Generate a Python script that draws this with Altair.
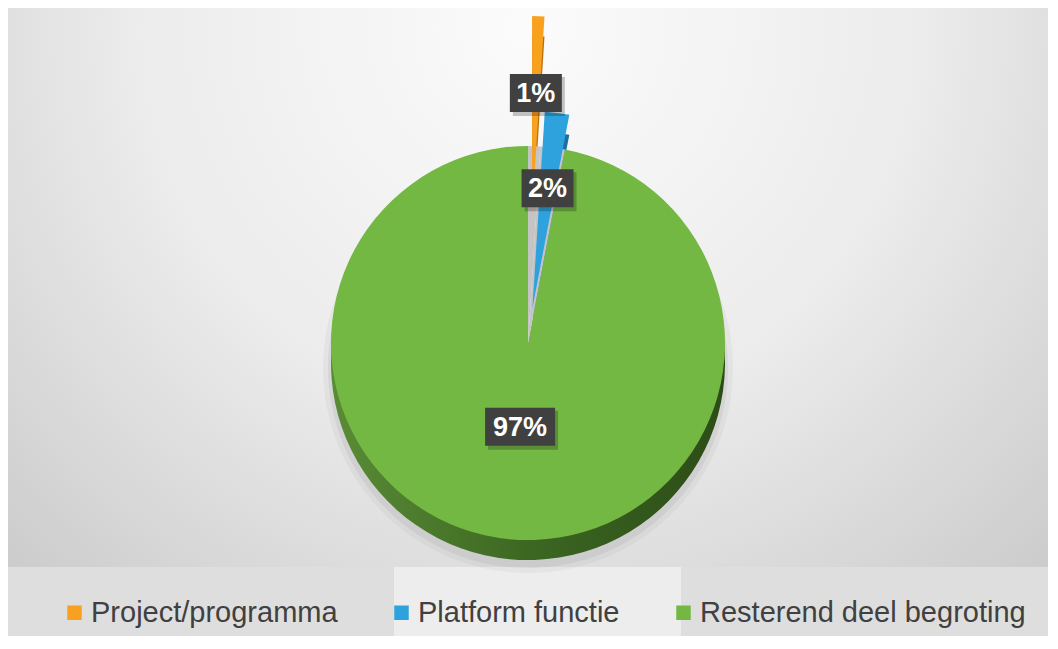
import altair as alt
import pandas as pd

# ---- data ----
categories = ["Project/programma", "Platform functie", "Resterend deel begroting"]
values = [1, 2, 97]
labels = ["1%", "2%", "97%"]

# ---- style ----
colors = ["#F7A11E", "#2EA2DD", "#73B843"]
side_colors = ["#B8700F", "#1D6FA3", "#3E6B24"]
explode_px = [130, 35, 0]
label_radius_px = [120, 121, 84]

W, H = 1040, 628
CX, CY, R, DEPTH = 520, 335, 197, 20
BAND_Y = 559

total = sum(values)
starts, ends = [], []
acc = 0
for v in values:
    starts.append(acc)
    acc += v
    ends.append(acc)

df = pd.DataFrame({
    "category": categories,
    "value": values,
    "label": labels,
    "start": starts,
    "end": ends,
    "mid": [(s + e) / 2 for s, e in zip(starts, ends)],
    "explode": explode_px,
    "label_r": label_radius_px,
    "side_color": side_colors,
})

base = alt.Chart(df).transform_calculate(
    ang=f"2*PI*datum.mid/{total}",
).transform_calculate(
    cx=f"{CX} + datum.explode*sin(datum.ang)",
    cy=f"{CY} - datum.explode*cos(datum.ang)",
).transform_calculate(
    sy=f"datum.cy + {DEPTH}",
    hy=f"datum.cy + {DEPTH} + 5",
    lx="datum.cx + datum.label_r*sin(datum.ang)",
    ly="datum.cy - datum.label_r*cos(datum.ang)",
    bw="16 + 18*length(datum.label)",
).transform_calculate(
    bx1="datum.lx - datum.bw/2",
    bx2="datum.lx + datum.bw/2",
    by1="datum.ly - 19",
    by2="datum.ly + 19",
    sx1="datum.lx - datum.bw/2 + 3",
    sx2="datum.lx + datum.bw/2 + 3",
    sy1="datum.ly - 16",
    sy2="datum.ly + 23",
)

theta_scale = alt.Scale(domain=[0, total], range=[0, 6.283185307179586])
theta = alt.Theta("start:Q", scale=theta_scale, stack=None)
theta2 = alt.Theta2("end:Q")
cxe = alt.X("cx:Q", scale=None, axis=None)
cye = alt.Y("cy:Q", scale=None, axis=None)

color = alt.Color(
    "category:N",
    scale=alt.Scale(domain=categories, range=colors),
    sort=categories,
    legend=alt.Legend(
        orient="none", legendX=52, legendY=590, direction="horizontal",
        title=None, symbolType="square", symbolSize=210, padding=0,
        labelFontSize=29, labelFont="Liberation Sans", labelColor="#404040",
        columnPadding=49, labelOffset=2, symbolStrokeWidth=0, labelLimit=0,
    ),
)

bgdf = pd.DataFrame({"k": [0]})
bg = alt.Chart(bgdf).mark_rect(
    fill=alt.RadialGradient(
        gradient="radial", x1=0.5, y1=0.25, r1=0.0, x2=0.5, y2=0.25, r2=0.75,
        stops=[alt.GradientStop(offset=0, color="#fbfbfb"),
               alt.GradientStop(offset=0.5, color="#ececec"),
               alt.GradientStop(offset=1, color="#c9c9c9")],
    )
).encode(x=alt.value(0), x2=alt.value(W), y=alt.value(0), y2=alt.value(BAND_Y))

band = alt.Chart(bgdf).mark_rect(fill="#dedede").encode(
    x=alt.value(0), x2=alt.value(W), y=alt.value(BAND_Y), y2=alt.value(H))
band_hi = alt.Chart(bgdf).mark_rect(fill="#ededed").encode(
    x=alt.value(386), x2=alt.value(673), y=alt.value(BAND_Y), y2=alt.value(H))

green_only = base.transform_filter("datum.explode == 0")

halo1 = green_only.mark_arc(outerRadius=R + 8, fill="#000000", opacity=0.035).encode(
    theta=theta, theta2=theta2, x=cxe, y=alt.Y("hy:Q", scale=None, axis=None))
halo2 = green_only.mark_arc(outerRadius=R + 3, fill="#000000", opacity=0.05).encode(
    theta=theta, theta2=theta2, x=cxe, y=alt.Y("hy:Q", scale=None, axis=None))

side_green = green_only.mark_arc(
    outerRadius=R,
    fill=alt.LinearGradient(
        gradient="linear", x1=0, y1=0, x2=1, y2=0,
        stops=[alt.GradientStop(offset=0, color="#5a8c36"),
               alt.GradientStop(offset=0.5, color="#3c6722"),
               alt.GradientStop(offset=1, color="#2c4c17")],
    ),
).encode(theta=theta, theta2=theta2, x=cxe, y=alt.Y("sy:Q", scale=None, axis=None))

side_small = base.transform_filter("datum.explode > 0").mark_arc(outerRadius=R).encode(
    theta=theta, theta2=theta2, x=cxe, y=alt.Y("sy:Q", scale=None, axis=None),
    fill=alt.Fill("side_color:N", scale=None),
)

top_green = green_only.mark_arc(outerRadius=R).encode(
    theta=theta, theta2=theta2, x=cxe, y=cye, color=color)

cavity = base.transform_filter("datum.explode > 0").transform_calculate(
    cxc=f"{CX}", cyc=f"{CY}"
).mark_arc(outerRadius=R, fill="#c4c4c4").encode(
    theta=theta, theta2=theta2,
    x=alt.X("cxc:Q", scale=None, axis=None),
    y=alt.Y("cyc:Q", scale=None, axis=None))

top_small = base.transform_filter("datum.explode > 0").mark_arc(outerRadius=R).encode(
    theta=theta, theta2=theta2, x=cxe, y=cye, color=color)

shadow = base.mark_rect(fill="#000000", opacity=0.22).encode(
    x=alt.X("sx1:Q", scale=None, axis=None), x2="sx2:Q",
    y=alt.Y("sy1:Q", scale=None, axis=None), y2="sy2:Q")

box = base.mark_rect(fill="#404040").encode(
    x=alt.X("bx1:Q", scale=None, axis=None), x2="bx2:Q",
    y=alt.Y("by1:Q", scale=None, axis=None), y2="by2:Q")

text = base.mark_text(
    font="Liberation Sans", fontWeight="bold", fontSize=27, color="white",
    align="center", baseline="middle", dy=1,
).encode(x=alt.X("lx:Q", scale=None, axis=None),
         y=alt.Y("ly:Q", scale=None, axis=None), text="label:N")

chart = alt.layer(
    bg, band, band_hi, halo1, halo2, side_green, side_small, top_green, cavity,
    top_small, shadow, box, text,
).properties(width=W, height=H, padding=0).configure_view(
    stroke="#c6c6c6", strokeWidth=1
).configure(background="white")

chart.save("out.html", embed_options={"renderer": "svg", "actions": False})
